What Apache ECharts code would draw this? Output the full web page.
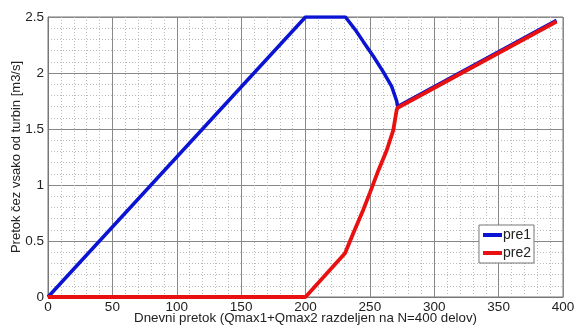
<!DOCTYPE html>
<html><head><meta charset="utf-8">
<script src="https://cdn.jsdelivr.net/npm/echarts@6/dist/echarts.min.js"></script>
<style>html,body{margin:0;padding:0;background:#fff}#c{width:575px;height:327px}</style>
</head><body><div id="c"></div>
<script>
const xTicks = [0, 50, 100, 150, 200, 250, 300, 350, 400];
const yTicks = [0, 0.5, 1, 1.5, 2, 2.5];
const pre1X = [0, 200, 231, 238.4, 244.9, 252.7, 260.4, 266.9, 270.8, 271.6, 395];
const pre1Y = [0, 2.5, 2.5, 2.39, 2.28, 2.15, 2.01, 1.88, 1.75, 1.7, 2.47];
const pre2X = [0, 200, 230.7, 237.1, 244.9, 250, 256.6, 263.1, 268.2, 270.8, 271.6, 395];
const pre2Y = [0, 0, 0.39, 0.57, 0.78, 0.93, 1.13, 1.31, 1.49, 1.67, 1.69, 2.46];
const xName = 'Dnevni pretok (Qmax1+Qmax2 razdeljen na N=400 delov)';
const yName = 'Pretok čez vsako od turbin [m3/s]';

const zip = (a, b) => a.map((v, i) => [v, b[i]]);
const font = 'Liberation Sans, Arial, sans-serif';
const chart = echarts.init(document.getElementById('c'));
chart.setOption({
  animation: false,
  backgroundColor: '#fff',
  grid: {left: 48, right: 12, top: 17, bottom: 30, show: true, borderColor: '#777', borderWidth: 1,
         backgroundColor: '#fff', containLabel: false, outerBoundsMode: 'none'},
  legend: {
    right: 41, top: 225, orient: 'vertical', itemWidth: 19, itemHeight: 4, itemGap: 4,
    padding: [3, 3, 3, 4], borderColor: '#777', borderWidth: 1, backgroundColor: '#fff', borderRadius: 0,
    textStyle: {fontFamily: font, fontSize: 14, color: '#222', padding: [0,0,0,-4]},
    data: [{name: 'pre1', icon: 'rect'}, {name: 'pre2', icon: 'rect'}]
  },
  xAxis: {
    type: 'value', min: xTicks[0], max: xTicks[xTicks.length-1], interval: 50,
    name: xName, nameLocation: 'middle', nameGap: 15, nameMoveOverlap: false,
    nameTextStyle: {fontFamily: font, fontSize: 13.3, color: '#222'},
    axisLine: {lineStyle: {color: '#777'}}, axisTick: {show: false},
    axisLabel: {fontFamily: font, fontSize: 13.5, color: '#222', margin: 3},
    splitLine: {lineStyle: {color: '#888', width: 1}},
    minorTick: {show: false, splitNumber: 5},
    minorSplitLine: {show: true, lineStyle: {color: '#bbb', type: [1, 2], width: 1}}
  },
  yAxis: {
    type: 'value', min: yTicks[0], max: yTicks[yTicks.length-1], interval: 0.5,
    name: yName, nameLocation: 'middle', nameGap: 25, nameMoveOverlap: false,
    nameTextStyle: {fontFamily: font, fontSize: 13, color: '#222'},
    axisLine: {show: true, lineStyle: {color: '#777'}}, axisTick: {show: false},
    axisLabel: {fontFamily: font, fontSize: 13.5, color: '#222', margin: 4},
    splitLine: {lineStyle: {color: '#888', width: 1}},
    minorTick: {show: false, splitNumber: 5},
    minorSplitLine: {show: true, lineStyle: {color: '#bbb', type: [1, 2], width: 1}}
  },
  series: [
    {name: 'pre1', type: 'line', data: zip(pre1X, pre1Y), showSymbol: false, smooth: false,
     lineStyle: {color: '#0a14d2', width: 3.5}, itemStyle: {color: '#0a14d2'}},
    {name: 'pre2', type: 'line', data: zip(pre2X, pre2Y), showSymbol: false, smooth: false,
     lineStyle: {color: '#e81010', width: 3.8}, itemStyle: {color: '#e81010'}}
  ]
});
</script></body></html>
